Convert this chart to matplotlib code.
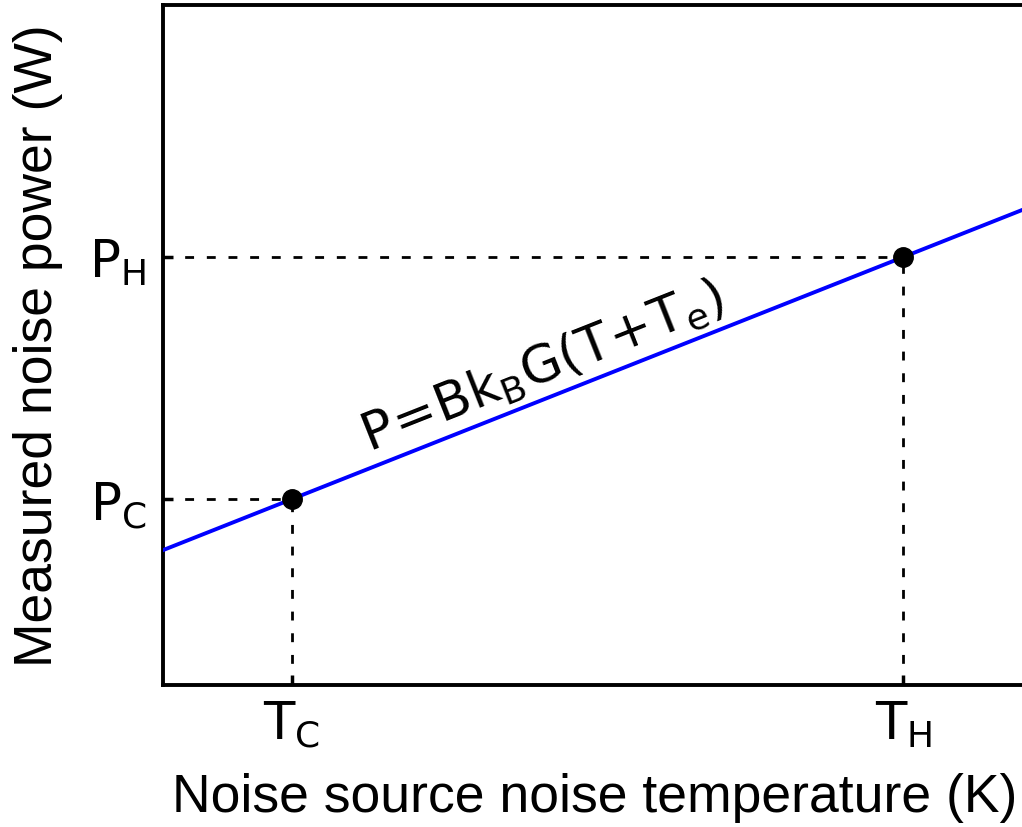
import numpy as np
import matplotlib
matplotlib.use("Agg")
import matplotlib.pyplot as plt
import matplotlib.transforms as mtransforms

plt.rcParams['mathtext.fontset'] = 'dejavusans'

# Data
T_points = [1.0, 6.0]          # T_C, T_H
P_points = [1.0, 3.0]          # P_C, P_H
x_tick_labels = [r'$\mathrm{T}_\mathrm{C}$', r'$\mathrm{T}_\mathrm{H}$']
y_tick_labels = [r'$\mathrm{P}_\mathrm{C}$', r'$\mathrm{P}_\mathrm{H}$']
slope = 0.4
T_e = 1.5
formula = r'$\mathrm{P\!=\!Bk_BG(T\!+\!T_e)}$'

fig = plt.figure(figsize=(10.22, 8.28), dpi=100)
W, H = 1022, 828
left_px, right_px, top_px, bottom_px = 163, 1050, 5.5, 686
ax = fig.add_axes([left_px / W, 1 - bottom_px / H,
                   (right_px - left_px) / W, (bottom_px - top_px) / H])

xmin, xmax = -0.056, 7.20
ymin, ymax = -0.537, 5.087
ax.set_xlim(xmin, xmax)
ax.set_ylim(ymin, ymax)

xs = np.array([xmin - 1, xmax + 1])
ax.plot(xs, slope * (xs + T_e), color='#0000ff', lw=2.8, zorder=3)

for T, P in zip(T_points, P_points):
    ax.plot([xmin, T], [P, P], color='black', lw=2, dashes=(3.2, 4.6), zorder=2)
    ax.plot([T, T], [ymin, P], color='black', lw=2, dashes=(3.2, 4.6), zorder=2)
ax.plot(T_points, P_points, 'o', color='black', ms=14, zorder=4)

ax.set_xticks(T_points)
ax.set_xticklabels(x_tick_labels)
ax.set_yticks(P_points)
ax.set_yticklabels(y_tick_labels)
ax.tick_params(direction='in', length=7, width=2.5, labelsize=37)
ax.tick_params(axis='x', pad=10)
ax.tick_params(axis='y', pad=12)

for s in ax.spines.values():
    s.set_linewidth(2.8)

lab_font = dict(family=['Liberation Sans', 'DejaVu Sans'], size=38.5)
ax.set_xlabel('Noise source noise temperature (K)', fontdict=lab_font)
ax_w = right_px - left_px
ax_h = bottom_px - top_px
ax.xaxis.set_label_coords((595 - left_px) / ax_w, (bottom_px - 812) / ax_h)
ax.xaxis.label.set_va('baseline')
ax.set_ylabel('Measured noise power (W)', fontdict=lab_font, labelpad=19)

# formula along line
tx = 1.70
ty = slope * (tx + T_e)
angle = np.degrees(np.arctan2(*(ax.transData.transform((1, slope)) - ax.transData.transform((0, 0)))[::-1]))
trans = mtransforms.offset_copy(ax.transData, fig=fig, x=-6, y=10.5, units='points')
ax.text(tx, ty, formula, transform=trans, rotation=angle, rotation_mode='anchor',
        ha='left', va='baseline', fontsize=37.5, zorder=5)

fig.savefig('out.png', dpi=100)
